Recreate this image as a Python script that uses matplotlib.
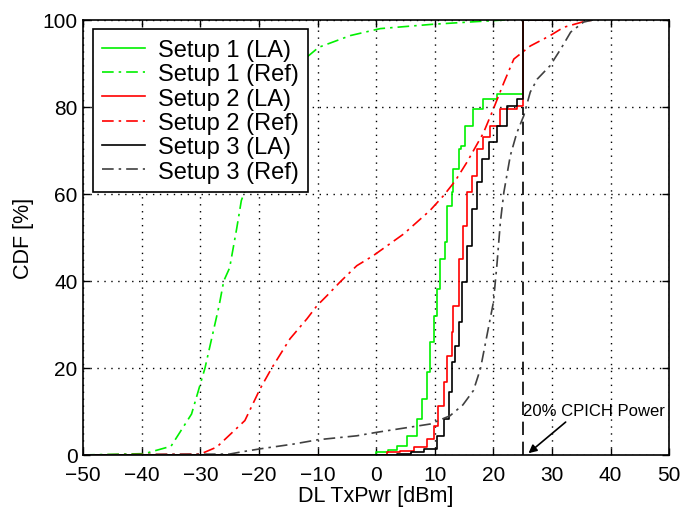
import matplotlib.pyplot as plt
import numpy as np

plt.rcParams['font.family'] = ['Liberation Sans', 'DejaVu Sans']

#%% Data (x in dBm, y in %)

# Setup 1 (LA) - step CDF
s1_la_x = [-50, 0, 2, 3.5, 5.2, 6.9, 7.8, 8.7, 9.2, 9.8, 10.4, 10.9, 11.8, 12.1, 12.9,
           13.2, 14.1, 14.4, 15.2, 16.6, 18.3, 20.6, 25, 33]
s1_la_y = [0, 0.6, 1.2, 2.1, 4.4, 8.3, 12.9, 19, 25.9, 32, 38.2, 45, 48.9, 57.3, 60.4,
           65.7, 70.3, 71.1, 75.7, 79.5, 81.8, 83, 100, 100]

# Setup 2 (LA)
s2_la_x = [-50, 1.8, 4, 6.4, 8.7, 9.8, 10.6, 11.5, 12.1, 12.9, 13.2, 14.1, 14.9, 15.5,
           16.4, 17.2, 18.3, 19.5, 21.2, 24, 25, 33]
s2_la_y = [0, 0.6, 1.0, 1.8, 3.7, 6.7, 11.3, 16.7, 22.8, 28.2, 34.3, 45, 52.7, 60.4,
           64.2, 70.3, 73, 75.7, 79.5, 80.3, 100, 100]

# Setup 3 (LA)
s3_la_x = [-50, 3.5, 6, 8.1, 10.4, 11.5, 12.4, 12.9, 13.5, 14.1, 14.6, 15.5, 16.4, 17.2,
           18.1, 19.3, 20.6, 22.3, 24, 25, 33]
s3_la_y = [0, 0.2, 0.7, 1.4, 4.4, 8.3, 14.4, 21.3, 25.1, 30.5, 39.7, 48.1, 56.6, 62.7,
           68, 72, 75.7, 80.3, 81.8, 100, 100]

# Setup 1 (Ref)
s1_ref_x = [-50, -39.5, -35, -31.5, -29.2, -26.8, -26, -25, -23.8, -23, -22, -20, -17,
            -14, -9.8, -4.4, 0.7, 9.7, 17, 22]
s1_ref_y = [0, 0.3, 2, 9.4, 20, 34.3, 40, 43, 52, 58.5, 62, 72, 82, 89, 93.7, 96.4, 98,
            99, 99.6, 100]

# Setup 2 (Ref)
s2_ref_x = [-50, -30, -27.2, -22.4, -19.8, -17.8, -14.7, -11.8, -10.1, -8.4, -6.2, -3.3,
            -0.5, 4.7, 9.2, 11.5, 13.5, 15.5, 18.3, 20, 21.8, 23.5, 26.3, 29.7, 32, 35.4, 37]
s2_ref_y = [0, 0.2, 1.8, 7.9, 15.2, 20, 26.7, 31.3, 34.3, 36.6, 39.7, 43.5,
            45.8, 50.8, 56.2, 59.6, 63, 67.3, 74, 79.5, 85.6, 91, 94, 96.4, 98.3, 99.6, 100]

# Setup 3 (Ref)
s3_ref_x = [-50, -25, -23, -19.8, -14.1, -9.9, -3.3, 0.1, 9.2, 12.6, 14.8, 16.6, 17.8,
            18.9, 20, 20.6, 21.2, 21.8, 22.9, 24, 25.2, 26.3, 27.5, 29.7, 31.5, 33.2, 35.4, 37]
s3_ref_y = [0, 0.2, 0.7, 1.4, 2.5, 3.5, 4.4, 5.2, 7.1, 9, 11.5, 14.8, 19.8,
            27.4, 35, 43.5, 53.5, 60.4, 68.8, 74, 78, 83.4, 86.4, 89.5, 93.3, 97.2, 99.5, 100]

cpich_x = 25          # 20% CPICH power marker
cpich_top = 80

#%% Plot

fig = plt.figure(figsize=(6.87, 5.10), dpi=100)
ax = fig.add_axes([0.121, 0.106, 0.853, 0.853])

dashdot = (0, (7, 3, 1.5, 3))
green = '#00f000'
red = '#ff0000'

ax.plot(s1_la_x, s1_la_y, color=green, lw=1.2, drawstyle='steps-post', label='Setup 1 (LA)')
ax.plot(s1_ref_x, s1_ref_y, color=green, lw=1.2, linestyle=dashdot, label='Setup 1 (Ref)')
ax.plot(s2_la_x, s2_la_y, color=red, lw=1.2, drawstyle='steps-post', label='Setup 2 (LA)')
ax.plot(s2_ref_x, s2_ref_y, color=red, lw=1.2, linestyle=dashdot, label='Setup 2 (Ref)')
ax.plot(s3_la_x, s3_la_y, color='k', lw=1.2, drawstyle='steps-post', label='Setup 3 (LA)')
ax.plot(s3_ref_x, s3_ref_y, color='0.25', lw=1.2, linestyle=dashdot, label='Setup 3 (Ref)')

# CPICH marker line and annotation
ax.plot([cpich_x, cpich_x], [0, cpich_top], color='k', lw=1.2, linestyle=(0, (8, 4)))
ax.annotate('20% CPICH Power', xy=(26, 0.4), xytext=(25.1, 8.4), fontsize=12,
            ha='left', va='bottom',
            arrowprops=dict(arrowstyle='-|>', color='k', lw=1.2,
                            shrinkA=1, shrinkB=0, relpos=(0.33, 0)))

ax.set_xlim(-50, 50)
ax.set_ylim(0, 100)
ax.set_xticks(np.arange(-50, 51, 10))
ax.set_yticks(np.arange(0, 101, 20))
ax.tick_params(direction='in', top=True, right=True, labelsize=15, length=5, width=1)
ax.tick_params(axis='x', pad=7)
ax.tick_params(axis='y', pad=4)
ax.grid(True, color='k', linestyle=(0, (1, 4)), linewidth=1)
for s in ax.spines.values():
    s.set_linewidth(1.2)

ax.set_xlabel('DL TxPwr [dBm]', fontsize=15.5, labelpad=1)
ax.set_ylabel('CDF [%]', fontsize=15.5, labelpad=6)

leg = ax.legend(loc='upper left', fontsize=17, frameon=True, fancybox=False,
                framealpha=1, edgecolor='k', handlelength=1.8, borderaxespad=0.4,
                labelspacing=0.1, borderpad=0.4, handletextpad=0.55)
leg.get_frame().set_linewidth(1.2)

plt.savefig('out.png', dpi=100)
